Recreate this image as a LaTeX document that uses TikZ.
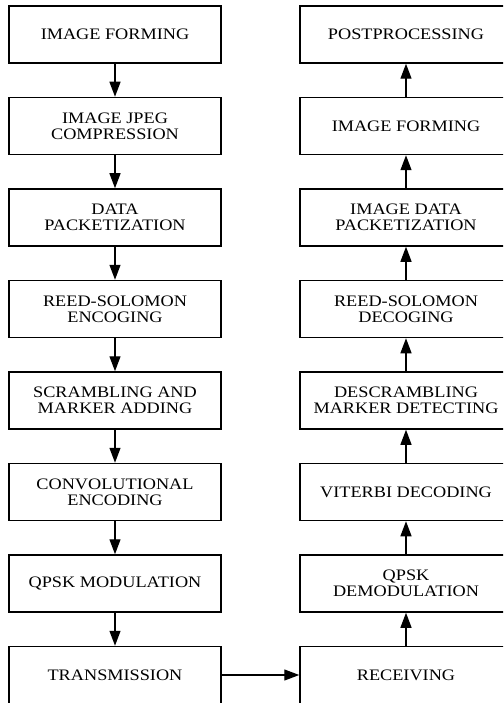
\documentclass[tikz,border=0pt]{standalone}
\usepackage{fontspec}
\setmainfont{Liberation Serif}[FakeStretch=1.14]
\usetikzlibrary{arrows.meta}
\tikzset{
  blk/.style={draw=black, line width=1.5pt, minimum width=212pt, minimum height=57pt,
    inner sep=0pt, align=center, font=\fontsize{16}{16}\selectfont},
  flow/.style={line width=1.3pt, -{Triangle[length=15pt,width=11pt]}}
}
\begin{document}
\begin{tikzpicture}[x=1pt,y=-1pt]
\useasboundingbox (0,0) rectangle (503,703);
\clip (0,0) rectangle (503,703);
% left column
\node[blk] (l1) at (115,34.5) {IMAGE FORMING};
\node[blk] (l2) at (115,126) {IMAGE JPEG\\COMPRESSION};
\node[blk] (l3) at (115,217.5) {DATA\\PACKETIZATION};
\node[blk] (l4) at (115,309) {REED-SOLOMON\\ENCOGING};
\node[blk] (l5) at (115,400.5) {SCRAMBLING AND\\MARKER ADDING};
\node[blk] (l6) at (115,492) {CONVOLUTIONAL\\ENCODING};
\node[blk] (l7) at (115,583.5) {QPSK MODULATION};
\node[blk] (l8) at (115,675) {TRANSMISSION};
% right column
\node[blk] (r1) at (406,34.5) {POSTPROCESSING};
\node[blk] (r2) at (406,126) {IMAGE FORMING};
\node[blk] (r3) at (406,217.5) {IMAGE DATA\\PACKETIZATION};
\node[blk] (r4) at (406,309) {REED-SOLOMON\\DECOGING};
\node[blk] (r5) at (406,400.5) {DESCRAMBLING\\MARKER DETECTING};
\node[blk] (r6) at (406,492) {VITERBI DECODING};
\node[blk] (r7) at (406,583.5) {QPSK\\DEMODULATION};
\node[blk] (r8) at (406,675) {RECEIVING};
% arrows
\foreach \a/\b in {l1/l2,l2/l3,l3/l4,l4/l5,l5/l6,l6/l7,l7/l8}
  \draw[flow] (\a.south) -- (\b.north);
\foreach \a/\b in {r8/r7,r7/r6,r6/r5,r5/r4,r4/r3,r3/r2,r2/r1}
  \draw[flow] (\a.north) -- (\b.south);
\draw[flow] (l8.east) -- (r8.west);
\end{tikzpicture}
\end{document}
